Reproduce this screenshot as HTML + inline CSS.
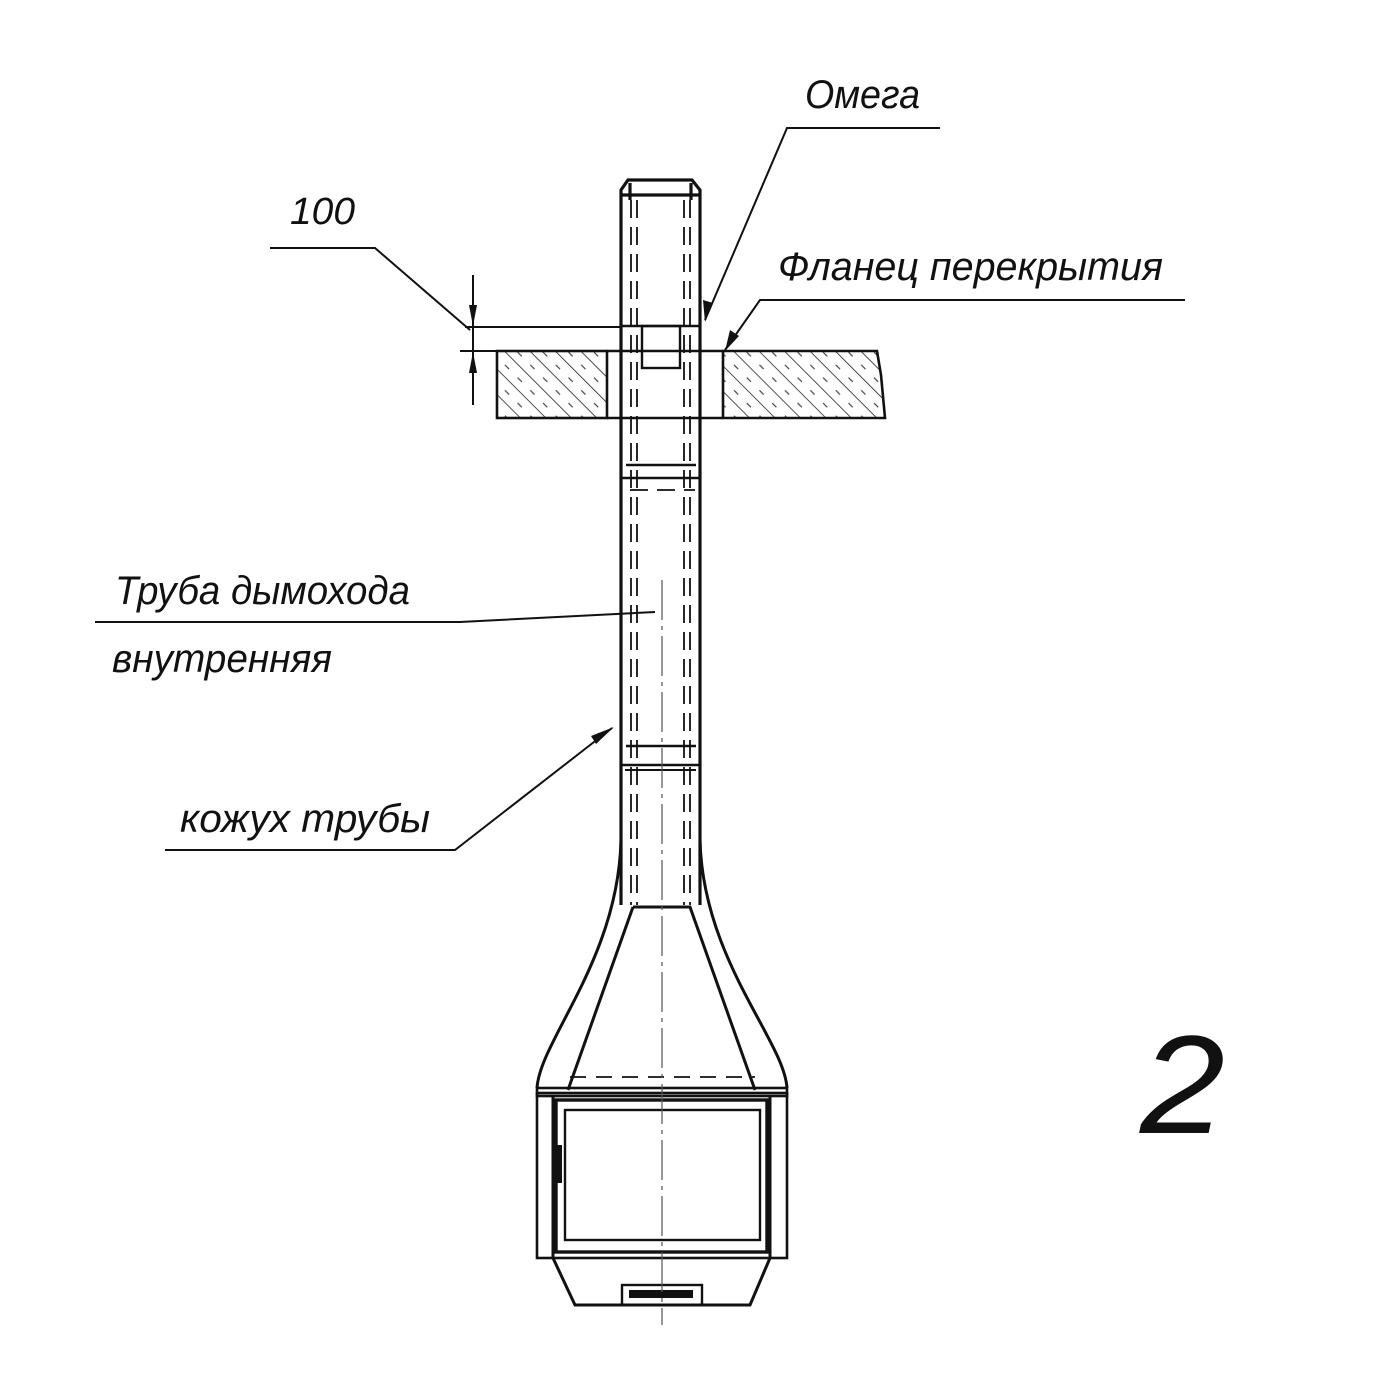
<!DOCTYPE html>
<html><head><meta charset="utf-8"><style>html,body{margin:0;padding:0;background:#fff}svg{display:block}</style></head>
<body>
<svg width="1373" height="1400" viewBox="0 0 1373 1400" xmlns="http://www.w3.org/2000/svg">
<defs>
<pattern id="h" width="18" height="18" patternUnits="userSpaceOnUse" patternTransform="rotate(-45)">
<line x1="0" y1="0" x2="0" y2="18" stroke="#222" stroke-width="1.6"/>
<line x1="9" y1="3" x2="9" y2="9" stroke="#444" stroke-width="1.2"/>
</pattern>
</defs>
<g font-family="Liberation Sans, DejaVu Sans, sans-serif" font-style="italic" fill="#111">
<text x="805" y="108" font-size="40" textLength="115" lengthAdjust="spacingAndGlyphs">Омега</text>
<text x="290" y="224" font-size="38" textLength="65" lengthAdjust="spacingAndGlyphs">100</text>
<text x="778" y="280" font-size="40" textLength="385" lengthAdjust="spacingAndGlyphs">Фланец перекрытия</text>
<text x="115" y="604" font-size="40" textLength="295" lengthAdjust="spacingAndGlyphs">Труба дымохода</text>
<text x="112" y="672" font-size="40" textLength="220" lengthAdjust="spacingAndGlyphs">внутренняя</text>
<text x="180" y="832" font-size="40" textLength="250" lengthAdjust="spacingAndGlyphs">кожух трубы</text>
<text x="1140" y="1133" font-size="140" font-weight="normal" textLength="85" lengthAdjust="spacingAndGlyphs">2</text>
</g>
<g stroke="#111" fill="none" stroke-width="2">
<polyline points="940,128 787,128 705,320"/>
<polyline points="270,248 375,248 470,330"/>
<polyline points="1185,300 760,300 725,350"/>
<polyline points="95,622 460,622 655,612"/>
<polyline points="165,850 455,850 612,728"/>
<line x1="465" y1="327" x2="620" y2="327"/>
<line x1="460" y1="351" x2="497" y2="351"/>
<line x1="473" y1="275" x2="473" y2="405"/>
</g>
<g fill="#111">
<polygon points="705,322 703,300 713,303"/>
<polygon points="725,351 730,330 739,336"/>
<polygon points="614,727 596,744 591,736"/>
<polygon points="473,326 469,305 477,305"/>
<polygon points="473,352 469,373 477,373"/>
</g>
<rect x="497" y="351" width="110" height="67" fill="url(#h)" stroke="#111" stroke-width="2.6"/>
<path d="M723,351 H877 L881,375 L885,418 H723 Z" fill="url(#h)" stroke="#111" stroke-width="2.6"/>
<line x1="607" y1="418" x2="723" y2="418" stroke="#111" stroke-width="2.4"/>
<line x1="607" y1="351" x2="723" y2="351" stroke="#111" stroke-width="2.4"/>
<g stroke="#111" fill="none" stroke-width="3.2">
<path d="M621,905 V190 L628,180 H692 L700,190 V905"/>
<line x1="621" y1="195" x2="700" y2="195"/>
<line x1="630" y1="183" x2="630" y2="200"/><line x1="691" y1="183" x2="691" y2="200"/>
<rect x="642" y="326" width="38" height="42" stroke-width="2.4"/>
<line x1="621" y1="326" x2="700" y2="326" stroke-width="2.4"/>
<line x1="626" y1="465" x2="696" y2="465" stroke-width="2.6"/>
<line x1="621" y1="478" x2="700" y2="478" stroke-width="2.6"/>
<line x1="626" y1="746" x2="696" y2="746" stroke-width="2.6"/>
<line x1="621" y1="765" x2="700" y2="765" stroke-width="2.6"/>
<line x1="625" y1="770" x2="696" y2="770" stroke-width="2"/>
</g>
<g stroke="#111" fill="none" stroke-width="1.8" stroke-dasharray="18,9">
<line x1="631" y1="200" x2="631" y2="905"/><line x1="637" y1="200" x2="637" y2="905"/>
<line x1="684" y1="200" x2="684" y2="905"/><line x1="690" y1="200" x2="690" y2="905"/>
<line x1="630" y1="490" x2="695" y2="490"/>
</g>
<g stroke="#111" fill="none" stroke-width="3">
<path d="M621,840 C618,960 540,1040 537,1088"/>
<path d="M700,840 C703,960 784,1040 787,1088"/>
<path d="M633,907 H690 L755,1090 M633,907 L568,1090"/>
<rect x="537" y="1088" width="250" height="8" stroke-width="2.6"/>
<rect x="537" y="1093" width="250" height="165" stroke-width="2.6"/>
<line x1="553" y1="1096" x2="553" y2="1258"/><line x1="770" y1="1096" x2="770" y2="1258"/>
<rect x="556" y="1100" width="211" height="152" stroke-width="3.4"/>
<rect x="565" y="1110" width="195" height="130" stroke-width="2.4"/>
<path d="M553,1258 L575,1305 H750 L770,1258"/>
<rect x="622" y="1285" width="80" height="20" stroke-width="2.4"/>
<rect x="630" y="1291" width="62" height="6" stroke-width="2" fill="#111"/>
</g>
<rect x="553" y="1145" width="9" height="38" fill="#111"/>
<line x1="570" y1="1077" x2="755" y2="1077" stroke="#111" stroke-width="1.8" stroke-dasharray="16,10"/>
<line x1="662" y1="580" x2="662" y2="1325" stroke="#555" stroke-width="1.2" stroke-dasharray="40,6,4,6"/>
</svg>
</body></html>
